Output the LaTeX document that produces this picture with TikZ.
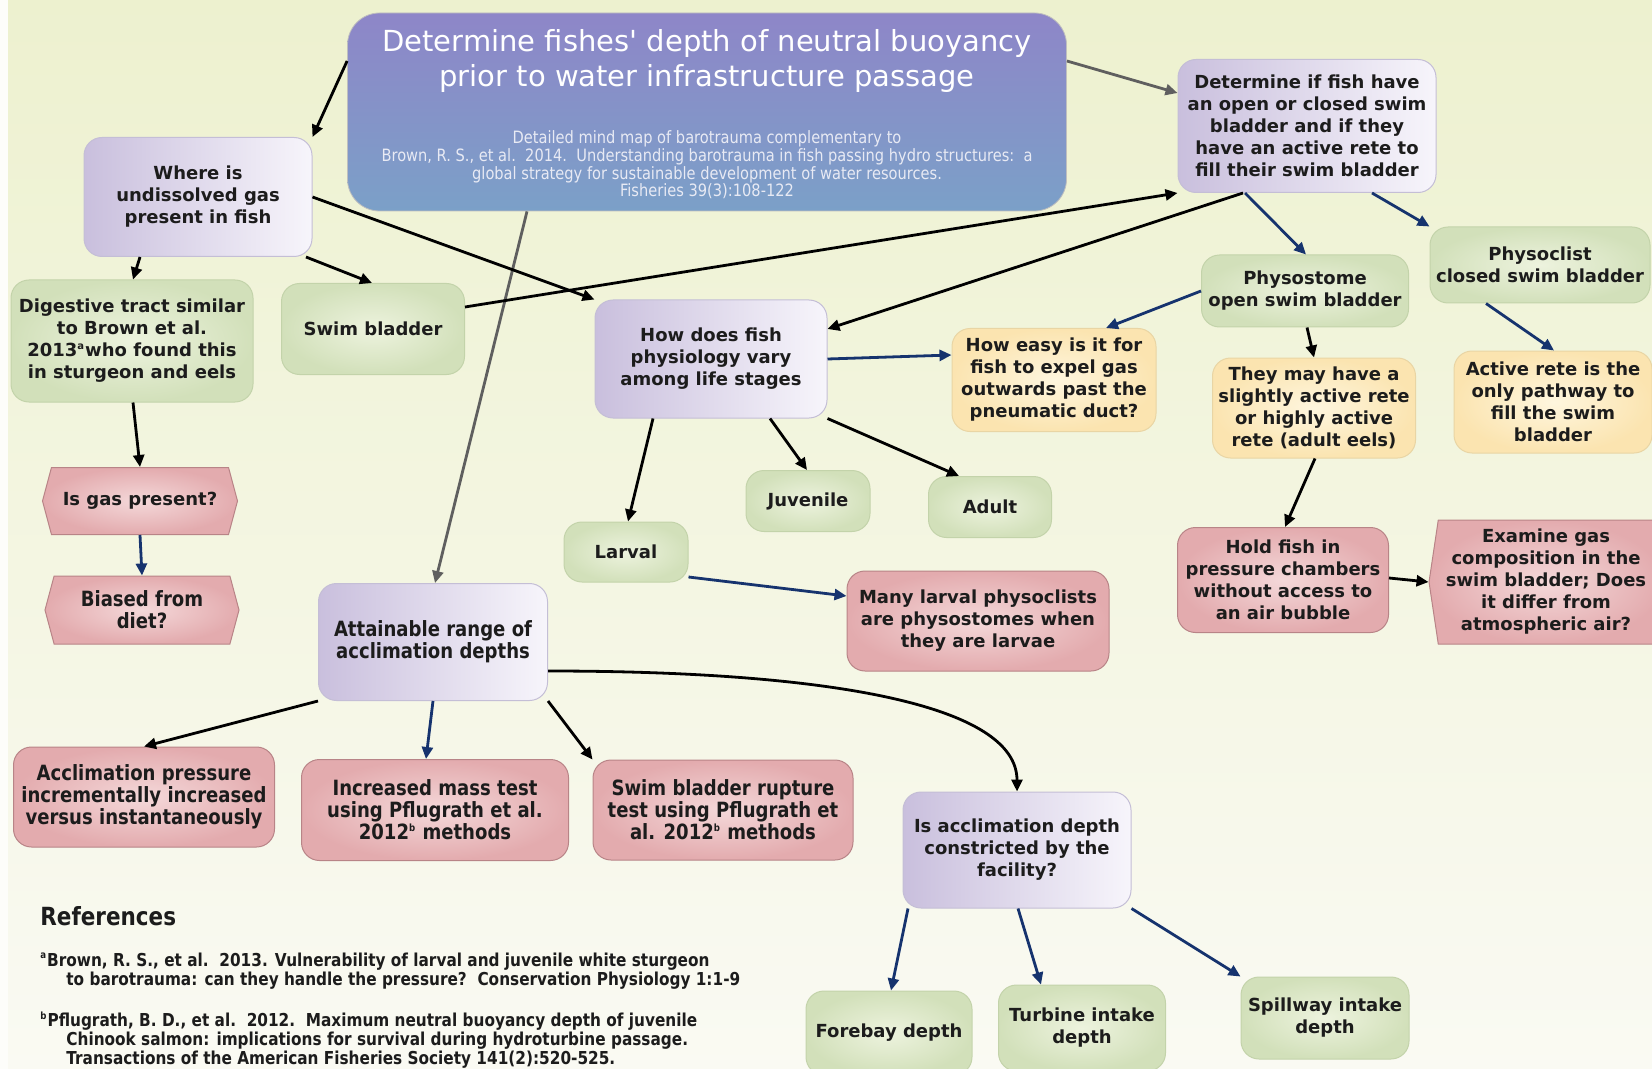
\documentclass[tikz,border=0pt]{standalone}
\usepackage{fontspec}
\setmainfont{DejaVu Sans}
\newfontfamily\condfont[FakeStretch=0.86]{DejaVu Sans}
\usetikzlibrary{arrows.meta,shapes.symbols}

\definecolor{bgtop}{HTML}{EDF1CF}
\definecolor{bgbot}{HTML}{FAFAF3}
\definecolor{titletop}{HTML}{8E86C8}
\definecolor{titlebot}{HTML}{7BA0C8}
\definecolor{subgrey}{HTML}{E8EAF4}
\definecolor{lavleft}{HTML}{C9BFDD}
\definecolor{lavright}{HTML}{F7F5FB}
\definecolor{lavedge}{HTML}{C4BED6}
\definecolor{greenout}{HTML}{D2E0BA}
\definecolor{greenin}{HTML}{EDF3DE}
\definecolor{greenedge}{HTML}{C3D3AA}
\definecolor{yellout}{HTML}{FBE4B0}
\definecolor{yellin}{HTML}{FEF6DE}
\definecolor{yelledge}{HTML}{E9D5A4}
\definecolor{redout}{HTML}{E3ABAE}
\definecolor{redin}{HTML}{F4D8D9}
\definecolor{rededge}{HTML}{B88487}
\definecolor{navy}{HTML}{16336E}
\definecolor{greyarrow}{HTML}{5F5F5F}
\definecolor{inktext}{HTML}{1C1C1C}

\begin{document}
\begin{tikzpicture}[x=0.5pt,y=-0.5pt,
  box/.style={rounded corners=9pt, align=center, text=inktext, inner sep=2pt,
    line width=0.5pt, font=\fontsize{9}{11}\selectfont\bfseries},
  tallfont/.style={font=\condfont\fontsize{10.5}{11}\selectfont\bfseries},
  purplebox/.style={box, left color=lavleft, right color=lavright, draw=lavedge},
  greenbox/.style={box, inner color=greenin, outer color=greenout, draw=greenedge},
  yellowbox/.style={box, inner color=yellin, outer color=yellout, draw=yelledge},
  redbox/.style={box, inner color=redin, outer color=redout, draw=rededge},
  hexbox/.style={signal, signal to=west and east, signal pointer angle=150,
    align=center, text=inktext, inner sep=2pt, line width=0.5pt,
    font=\fontsize{9}{11}\selectfont\bfseries,
    inner color=redin, outer color=redout, draw=rededge},
  reftext/.style={anchor=west, inner sep=0pt, align=left, text=inktext,
    font=\condfont\fontsize{8.9}{9.5}\selectfont\bfseries},
  link/.style={line width=1.4pt, -{Triangle[length=6pt,width=5.5pt]}},
  blacklink/.style={link, black},
  bluelink/.style={link, navy},
  greylink/.style={link, greyarrow}]

\useasboundingbox (0,0) rectangle (1652,1069);
\fill[top color=bgtop, bottom color=bgbot] (0,0) rectangle (1652,1069);
\fill[white!60!bgbot] (0,0) rectangle (8,1069);

% title
\node[draw=gray!50, rounded corners=16pt, top color=titletop, bottom color=titlebot,
  minimum width=359.5pt, minimum height=99pt] (title) at (707,112) {};
\node[text=white, align=center, font=\fontsize{14.5}{17.5}\selectfont] (titletext) at (707,61)
  {Determine fishes\textquotesingle\ depth of neutral buoyancy\\prior to water infrastructure passage};
\node[text=subgrey, align=center, font=\condfont\fontsize{8.5}{8.8}\selectfont] (titlenote) at (707,165)
  {Detailed mind map of barotrauma complementary to\\
   Brown, R. S., et al.\ \ 2014.\ \ Understanding barotrauma in fish passing hydro structures:\ \ a\\
   global strategy for sustainable development of water resources.\\
   Fisheries 39(3):108-122};

% left branch
\node[purplebox, minimum width=114pt, minimum height=59.5pt] (where) at (198,197)
  {Where is\\undissolved gas\\present in fish};
\node[greenbox, minimum width=121pt, minimum height=61pt] (digest) at (132,341)
  {Digestive tract similar\\to Brown et al.\\2013\textsuperscript{\tiny a}who found this\\in sturgeon and eels};
\node[greenbox, minimum width=91.5pt, minimum height=45.5pt] (swim) at (373,329) {Swim bladder};
\node[hexbox, minimum width=97.5pt, minimum height=33.5pt] (gas) at (140,501) {Is gas present?};
\node[hexbox, tallfont, minimum width=97pt, minimum height=34pt] (biased) at (142,610) {Biased from\\diet?};

% life stages
\node[purplebox, minimum width=116pt, minimum height=59pt] (how) at (711,359)
  {How does fish\\physiology vary\\among life stages};
\node[yellowbox, minimum width=102pt, minimum height=51.5pt] (easy) at (1054,380)
  {How easy is it for\\fish to expel gas\\outwards past the\\pneumatic duct?};
\node[greenbox, minimum width=62pt, minimum height=30.5pt] (juv) at (808,501) {Juvenile};
\node[greenbox, minimum width=61.5pt, minimum height=30.5pt] (adult) at (990,507) {Adult};
\node[greenbox, minimum width=62pt, minimum height=30pt] (larval) at (626,552) {Larval};
\node[redbox, minimum width=131pt, minimum height=50pt] (many) at (978,621)
  {Many larval physoclists\\are physostomes when\\they are larvae};

% right branch
\node[purplebox, minimum width=129pt, minimum height=66.5pt] (det) at (1307,126)
  {Determine if fish have\\an open or closed swim\\bladder and if they\\have an active rete to\\fill their swim bladder};
\node[greenbox, minimum width=103.5pt, minimum height=36pt] (physto) at (1305,291)
  {Physostome\\open swim bladder};
\node[greenbox, minimum width=110pt, minimum height=38pt] (physo) at (1540,265)
  {Physoclist\\closed swim bladder};
\node[yellowbox, minimum width=101.5pt, minimum height=50pt] (maybe) at (1314,408)
  {They may have a\\slightly active rete\\or highly active\\rete (adult eels)};
\node[yellowbox, minimum width=99pt, minimum height=51pt] (active) at (1553,402)
  {Active rete is the\\only pathway to\\fill the swim\\bladder};
\node[redbox, minimum width=105.5pt, minimum height=52.5pt] (hold) at (1283,580)
  {Hold fish in\\pressure chambers\\without access to\\an air bubble};
\node[hexbox, signal pointer angle=163, minimum width=117pt, minimum height=62pt] (examine) at (1546,582)
  {Examine gas\\composition in the\\swim bladder; Does\\it differ from\\atmospheric air?};

% acclimation
\node[purplebox, tallfont, minimum width=114.5pt, minimum height=58.5pt] (attain) at (433,642)
  {Attainable range of\\acclimation depths};
\node[redbox, tallfont, minimum width=130.5pt, minimum height=50pt] (accp) at (144,797)
  {Acclimation pressure\\incrementally increased\\versus instantaneously};
\node[redbox, tallfont, minimum width=133.5pt, minimum height=50.5pt] (mass) at (435,810)
  {Increased mass test\\using Pflugrath et al.\\2012\textsuperscript{\tiny b} methods};
\node[redbox, tallfont, minimum width=130pt, minimum height=50pt] (rupt) at (723,810)
  {Swim bladder rupture\\test using Pflugrath et\\al. 2012\textsuperscript{\tiny b} methods};
\node[purplebox, minimum width=114pt, minimum height=58pt] (isacc) at (1017,850)
  {Is acclimation depth\\constricted by the\\facility?};
\node[greenbox, minimum width=83pt, minimum height=42pt] (fore) at (889,1033) {Forebay depth};
\node[greenbox, minimum width=83.5pt, minimum height=43pt] (turb) at (1082,1028) {Turbine intake\\depth};
\node[greenbox, minimum width=84pt, minimum height=41pt] (spill) at (1325,1018) {Spillway intake\\depth};

% references
\node[anchor=west, inner sep=0pt, text=inktext, font=\condfont\fontsize{12.5}{14}\selectfont\bfseries]
  (refhead) at (40,916) {References};
\node[reftext] (refa) at (40,971)
  {\textsuperscript{\tiny a}Brown, R. S., et al.\ \ 2013. Vulnerability of larval and juvenile white sturgeon\\
   \hspace*{13pt}to barotrauma: can they handle the pressure?\ \ Conservation Physiology 1:1-9};
\node[reftext] (refb) at (40,1040)
  {\textsuperscript{\tiny b}Pflugrath, B. D., et al.\ \ 2012.\ \ Maximum neutral buoyancy depth of juvenile\\
   \hspace*{13pt}Chinook salmon: implications for survival during hydroturbine passage.\\
   \hspace*{13pt}Transactions of the American Fisheries Society 141(2):520-525.};

% connectors
\draw[blacklink] (title.west |- 0,61) -- (where.north east);
\draw[greylink] (title.east |- 0,61) -- (det.west |- 0,93);
\draw[greylink] (title.south -| 527,0) -- (attain.north -| 435,0);

\draw[blacklink] (where.south -| 140,0) -- (digest.north -| 133,0);
\draw[blacklink] (where.south -| 306,0) -- (swim.north -| 372,0);
\draw[blacklink] (where.east) -- (how.north west);
\draw[blacklink] (digest.south -| 133,0) -- (gas.north);
\draw[bluelink] (gas.south) -- (biased.north);

\draw[blacklink] (swim.east |- 0,307) -- (det.south west);
\draw[blacklink] (det.south -| 1243,0) -- (how.east |- 0,329);
\draw[bluelink] (det.south -| 1245,0) -- (physto.north -| 1306,0);
\draw[bluelink] (det.south -| 1372,0) -- (physo.north west);
\draw[bluelink] (physto.west) -- (easy.north -| 1106,0);
\draw[blacklink] (physto.south -| 1307,0) -- (maybe.north -| 1314,0);
\draw[bluelink] (physo.south -| 1486,0) -- (active.north -| 1554,0);
\draw[blacklink] (maybe.south -| 1315,0) -- (hold.north -| 1285,0);
\draw[blacklink] (hold.east |- 0,578) -- (examine.west);

\draw[bluelink] (how.east) -- (easy.west |- 0,355);
\draw[blacklink] (how.south -| 653,0) -- (larval.north -| 628,0);
\draw[blacklink] (how.south -| 770,0) -- (juv.north -| 807,0);
\draw[blacklink] (how.south east) -- (adult.north -| 959,0);
\draw[bluelink] (larval.east |- 0,577) -- (many.west |- 0,596);

\draw[blacklink] (attain.south west) -- (accp.north);
\draw[bluelink] (attain.south -| 433,0) -- (mass.north -| 426,0);
\draw[blacklink] (attain.south east) -- (rupt.north west);
\draw[blacklink] (attain.east |- 0,671) .. controls (830,671) and (1017,705) .. (isacc.north);
\draw[bluelink] (isacc.south -| 908,0) -- (fore.north -| 891,0);
\draw[bluelink] (isacc.south -| 1018,0) -- (turb.north -| 1041,0);
\draw[bluelink] (isacc.south east) -- (spill.north west);

\end{tikzpicture}
\end{document}
